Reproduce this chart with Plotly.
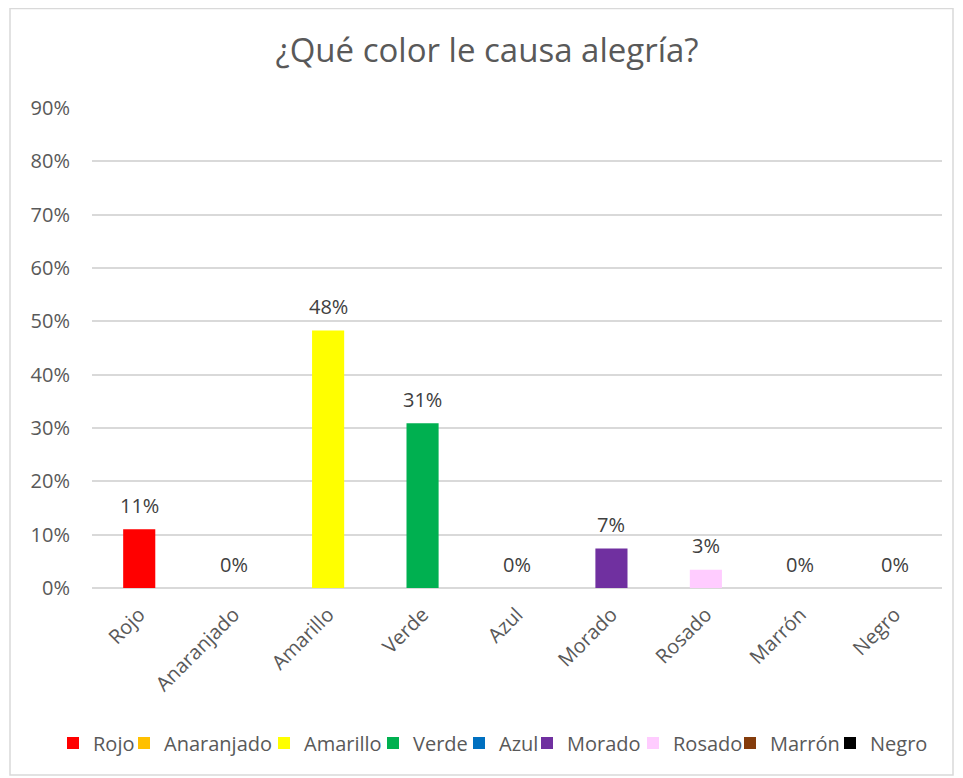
import plotly.graph_objects as go

categories = ["Rojo", "Anaranjado", "Amarillo", "Verde", "Azul", "Morado", "Rosado", "Marrón", "Negro"]
values = [0.11, 0.0, 0.483, 0.309, 0.0, 0.074, 0.034, 0.0, 0.0]
colors = ["#FF0000", "#FFC000", "#FFFF00", "#00B050", "#0070C0", "#7030A0", "#FFCCFF", "#843C0C", "#000000"]
y_ticks = [0, 0.1, 0.2, 0.3, 0.4, 0.5, 0.6, 0.7, 0.8, 0.9]

FONT = "Open Sans"
GREY = "#595959"
# page has an 8px body margin, so the figure is sized to fill the rest of the window
W, H = 955, 770
L, R, T, B = 84, 21, 100, 190

# legend entry left edges (figure pixels), one small legend per category
legend_left_px = [45, 116, 256, 365, 451, 519, 625, 722, 822]

fig = go.Figure()
for i, (cat, val, col) in enumerate(zip(categories, values, colors)):
    fig.add_trace(go.Bar(
        x=[cat], y=[val], name=cat,
        marker=dict(color=col, line=dict(width=0)),
        width=0.34,
        legend="legend" if i == 0 else f"legend{i + 1}",
    ))
    fig.add_annotation(x=cat, y=val, xref="x", yref="y", text=f"{val:.0%}",
                       showarrow=False, yanchor="middle", yshift=24,
                       font=dict(family=FONT, size=20, color="#404040"))

legends = {}
for i, lx in enumerate(legend_left_px):
    key = "legend" if i == 0 else f"legend{i + 1}"
    legends[key] = dict(
        orientation="h", x=lx / W, xanchor="left", xref="container",
        y=1 - 735 / H, yref="container", yanchor="middle",
        font=dict(family=FONT, size=20, color=GREY),
        bgcolor="rgba(0,0,0,0)", borderwidth=0,
        itemclick=False, itemdoubleclick=False,
    )

# chart border
pw, ph = W - L - R, H - T - B
fig.add_shape(type="rect", xref="paper", yref="paper",
              x0=(2 - L) / pw, x1=(945 - L) / pw,
              y0=(H - B - 767) / ph, y1=(H - B - 0.5) / ph,
              line=dict(color="#D9D9D9", width=1.5), fillcolor="rgba(0,0,0,0)", layer="below")

fig.update_layout(
    width=W, height=H,
    margin=dict(l=L, r=R, t=T, b=B, autoexpand=False),
    paper_bgcolor="white", plot_bgcolor="white",
    barmode="overlay",
    title=dict(text="¿Qué color le causa alegría?", x=479 / W, xref="container", xanchor="center",
               y=1 - 42 / H, yanchor="middle",
               font=dict(family=FONT, size=33, color=GREY)),
    showlegend=True,
    font=dict(family=FONT, color=GREY),
    **legends,
)
fig.update_xaxes(categoryorder="array", categoryarray=categories, tickangle=-45,
                 tickfont=dict(family=FONT, size=20, color=GREY),
                 showline=False, showgrid=False, ticks="", ticklabelstandoff=10)
fig.update_yaxes(range=[0, 0.9], tickvals=y_ticks, tickformat=".0%",
                 tickfont=dict(family=FONT, size=20, color=GREY),
                 showgrid=True, gridcolor="#D9D9D9", gridwidth=1.5,
                 zeroline=True, zerolinecolor="#D9D9D9", zerolinewidth=1.5,
                 showline=False, ticks="", ticklabelstandoff=21)

fig.write_html("out.html")
